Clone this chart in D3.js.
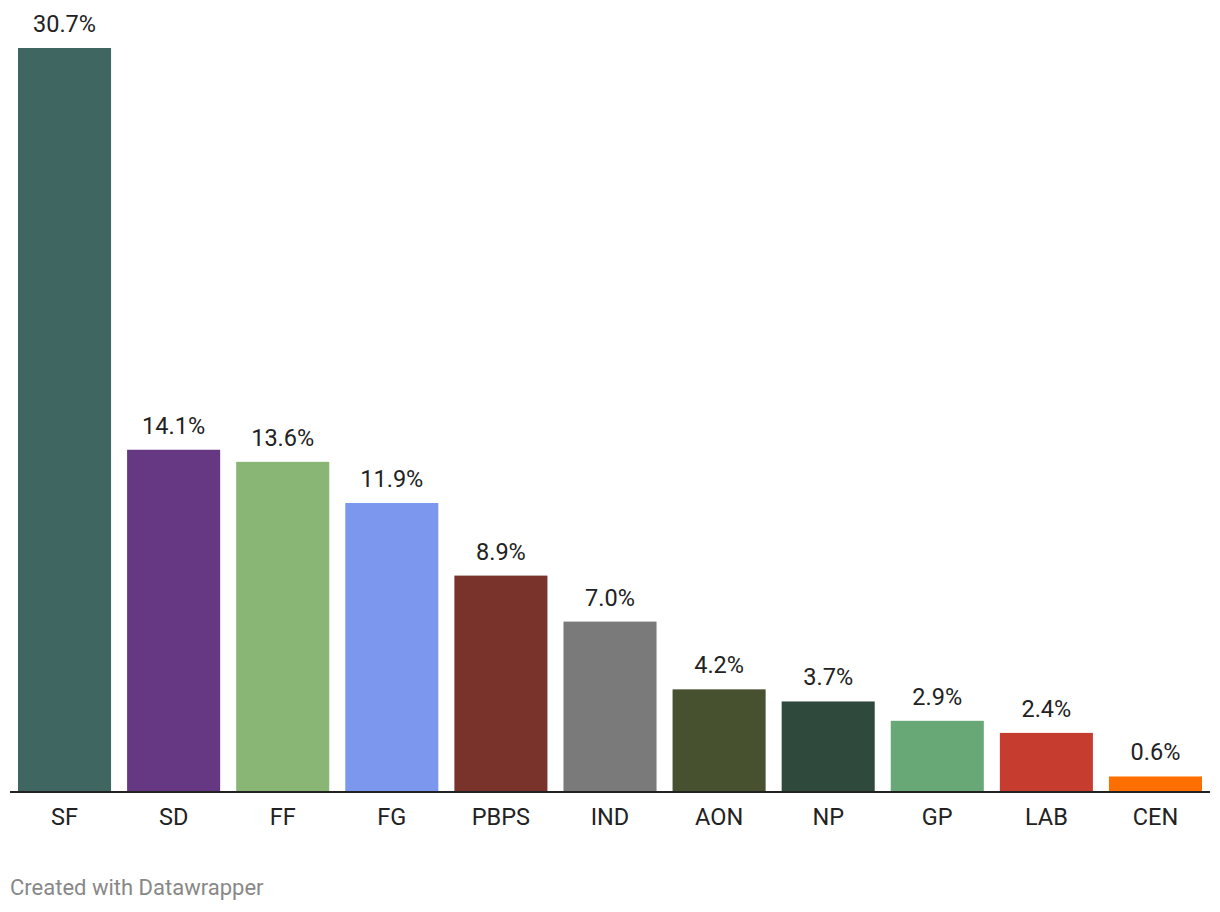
<!DOCTYPE html>
<html><head><meta charset="utf-8">
<script src="https://cdn.jsdelivr.net/npm/d3@7"></script>
<style>body{margin:0;background:#fff;font-family:Roboto,sans-serif;}</style>
</head><body>
<svg id="chart" width="1220" height="912"></svg>
<script>
const categories = ["SF","SD","FF","FG","PBPS","IND","AON","NP","GP","LAB","CEN"];
const values = [30.7,14.1,13.6,11.9,8.9,7.0,4.2,3.7,2.9,2.4,0.6];
const colors = ["#3f6660","#663782","#8ab675","#7b98ee","#7a332a","#7a7a7a","#47512f","#2f4a3c","#68a877","#c63d2f","#ff6f00"];

const svg = d3.select("#chart");
const baseY = 791;
const x = d3.scaleBand().domain(categories).range([18,1202]).paddingInner(0.147).paddingOuter(0);
const y = d3.scaleLinear().domain([0,30.7]).range([baseY,48]);

svg.append("g").selectAll("rect").data(categories).join("rect")
  .attr("x", d=>x(d)).attr("width", x.bandwidth())
  .attr("y", (d,i)=>y(values[i])).attr("height",(d,i)=>baseY-y(values[i]))
  .attr("fill",(d,i)=>colors[i]);

svg.append("g").selectAll("text").data(categories).join("text")
  .attr("x", d=>x(d)+x.bandwidth()/2).attr("y",(d,i)=>y(values[i])-16)
  .attr("text-anchor","middle").attr("font-size",23.5).attr("fill","#222")
  .text((d,i)=>values[i].toFixed(1)+"%");

const axis = d3.axisBottom(x).tickSize(0).tickPadding(0);
const ag = svg.append("g").attr("transform",`translate(0,${baseY})`).call(axis);
ag.select(".domain").remove();
ag.selectAll("text").attr("font-size",23.5).attr("font-family","Roboto,sans-serif").attr("fill","#222")
  .attr("dy",null).attr("y",34);
svg.append("line").attr("x1",10).attr("x2",1210).attr("y1",baseY+1).attr("y2",baseY+1)
  .attr("stroke","#222").attr("stroke-width",2);

svg.append("text").attr("x",10).attr("y",895).attr("font-size",22).attr("fill","#888")
  .text("Created with Datawrapper");
</script>
</body></html>
